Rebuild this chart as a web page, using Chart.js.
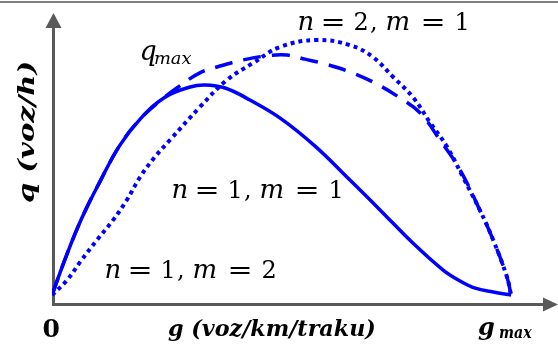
<!DOCTYPE html>
<html>
<head>
<meta charset="utf-8">
<title>q - g</title>
<script src="https://cdn.jsdelivr.net/npm/chart.js@4/dist/chart.umd.min.js"></script>
<style>
  html, body { margin: 0; padding: 0; background: #fff; }
  canvas { display: block; }
</style>
</head>
<body>
<canvas id="myChart" width="558" height="354"></canvas>
<script>
// g / gmax and q / qmax
const seriesNames = ['n = 1, m = 1', 'n = 1, m = 2', 'n = 2, m = 1'];

const solidG = [0, .031, .065, .105, .148, .192, .246, .301, .333, .377, .431, .497, .573, .649, .715, .786, .852, .889, .922, .961, 1];
const solidQ = [0, .153, .302, .447, .588, .690, .776, .816, .824, .812, .765, .694, .584, .451, .333, .204, .098, .055, .027, .012, 0];

const dashedG = [0, .031, .065, .105, .148, .192, .235, .272, .322, .366, .416, .464, .512, .551, .595, .649, .704, .758, .802, .845, .889, .932, .961, .991, 1];
const dashedQ = [0, .153, .302, .447, .588, .690, .761, .812, .871, .898, .922, .937, .941, .925, .906, .875, .831, .773, .714, .608, .490, .333, .216, .071, 0];

const dottedG = [0, .033, .061, .098, .133, .163, .192, .224, .257, .322, .381, .438, .497, .577, .649, .699, .743, .786, .824, .861, .895, .932, .961, .991, 1];
const dottedQ = [0, .059, .129, .216, .294, .373, .463, .541, .608, .737, .843, .910, .973, 1.0, .980, .933, .855, .776, .675, .580, .463, .333, .216, .071, 0];

const BLUE = '#0000ff';
const AXIS = '#595959';

function toPoints(gs, qs) {
    return gs.map((g, i) => ({ x: g, y: qs[i] }));
}

// draws a glyph run so that its ink runs from a to b
function inkFit(ctx, text, a, b, y) {
    const m = ctx.measureText(text);
    const inkW = m.actualBoundingBoxLeft + m.actualBoundingBoxRight;
    const s = (b - a) / inkW;
    ctx.save();
    ctx.translate(a + m.actualBoundingBoxLeft * s, y);
    ctx.scale(s, 1);
    ctx.fillText(text, 0, 0);
    ctx.restore();
}

// draws a glyph with its ink centred between a and b
function inkCenter(ctx, text, a, b, y) {
    const m = ctx.measureText(text);
    const inkW = m.actualBoundingBoxLeft + m.actualBoundingBoxRight;
    ctx.fillText(text, (a + b) / 2 - inkW / 2 + m.actualBoundingBoxLeft, y);
}

// "n = 1, m = 2" style labels, letters italic, the rest upright
function mathLabel(ctx, x, y, text) {
    const boxes = [[0, 15], [25, 45], [56, 69], [73, 77], [85, 114], [125, 145], [157, 170]];
    const tokens = text.split(' ').join('').match(/[a-z]|=|\d|,/g);
    tokens.forEach((t, i) => {
        const a = x + boxes[i][0], b = x + boxes[i][1];
        if (/[a-z]/.test(t)) {
            ctx.font = 'italic 26px "DejaVu Serif"';
            inkCenter(ctx, t, a, b, y);
        } else if (t === '=') {
            ctx.font = '24px "DejaVu Serif"';
            inkFit(ctx, t, a, b, y);
        } else {
            ctx.font = '24px "DejaVu Serif"';
            inkCenter(ctx, t, a, b, y);
        }
    });
}

const decorations = {
    id: 'decorations',
    beforeDraw(chart) {
        const ctx = chart.ctx;
        ctx.save();
        ctx.fillStyle = '#808080';
        ctx.fillRect(0, 1, chart.width, 2);
        ctx.restore();
    },
    beforeDatasetsDraw(chart) {
        const ctx = chart.ctx;
        const area = chart.chartArea;
        const x0 = chart.scales.x.getPixelForValue(0) + 1.5;
        const yb = area.bottom + 0.5;
        ctx.save();
        ctx.strokeStyle = AXIS;
        ctx.fillStyle = AXIS;
        ctx.lineWidth = 3;
        ctx.lineJoin = 'miter';
        ctx.beginPath();
        ctx.moveTo(x0, area.top + 15);
        ctx.lineTo(x0, yb);
        ctx.lineTo(area.right - 14, yb);
        ctx.stroke();
        // arrow heads
        ctx.beginPath();
        ctx.moveTo(x0, area.top);
        ctx.lineTo(x0 - 8, area.top + 15);
        ctx.lineTo(x0 + 8, area.top + 15);
        ctx.closePath();
        ctx.fill();
        ctx.beginPath();
        ctx.moveTo(area.right + 1, yb);
        ctx.lineTo(area.right - 14, yb - 7);
        ctx.lineTo(area.right - 14, yb + 7);
        ctx.closePath();
        ctx.fill();
        ctx.restore();
    },
    afterDraw(chart) {
        const ctx = chart.ctx;
        ctx.save();
        ctx.fillStyle = '#000';
        ctx.textBaseline = 'alphabetic';
        ctx.textAlign = 'left';

        mathLabel(ctx, 298, 30, seriesNames[2]);
        mathLabel(ctx, 172, 198, seriesNames[0]);
        mathLabel(ctx, 105, 278, seriesNames[1]);

        // q_max
        ctx.font = 'italic 27px "DejaVu Serif"';
        inkCenter(ctx, 'q', 140, 158, 60);
        ctx.font = 'italic 17px "DejaVu Serif"';
        inkFit(ctx, 'max', 155, 192, 64);

        // origin and g_max
        ctx.font = 'bold 25px "DejaVu Serif"';
        inkCenter(ctx, '0', 45, 58, 337);
        ctx.font = 'bold italic 24px "DejaVu Serif"';
        inkCenter(ctx, 'g', 476, 496, 335);
        ctx.font = 'bold italic 16px "DejaVu Serif"';
        inkFit(ctx, 'max', 499, 532, 338);

        // axis titles
        ctx.font = 'bold italic 23px "DejaVu Serif"';
        inkFit(ctx, 'g (voz/km/traku)', 168, 375, 336);

        ctx.translate(34, 203);
        ctx.rotate(-Math.PI / 2);
        inkFit(ctx, 'q (voz/h)', 0, 141, 0);
        ctx.restore();
    }
};

const ctx = document.getElementById('myChart').getContext('2d');
const chart = new Chart(ctx, {
    type: 'line',
    data: {
        datasets: [{
            label: seriesNames[0],
            data: toPoints(solidG, solidQ),
            borderColor: BLUE,
            borderWidth: 3.5
        }, {
            label: seriesNames[1],
            data: toPoints(dashedG, dashedQ),
            borderColor: BLUE,
            borderWidth: 3.5,
            borderDash: [18, 11]
        }, {
            label: seriesNames[2],
            data: toPoints(dottedG, dottedQ),
            borderColor: BLUE,
            borderWidth: 4,
            borderDash: [4, 4]
        }]
    },
    options: {
        responsive: false,
        animation: false,
        layout: { padding: { left: 52, right: 1, top: 13, bottom: 50 } },
        elements: {
            point: { radius: 0 },
            line: { tension: 0.4, fill: false }
        },
        scales: {
            x: { type: 'linear', min: 0, max: 1.1, display: false },
            y: { min: -0.035, max: 1.106, display: false }
        },
        plugins: {
            legend: { display: false },
            tooltip: { enabled: false }
        }
    },
    plugins: [decorations]
});
</script>
</body>
</html>
